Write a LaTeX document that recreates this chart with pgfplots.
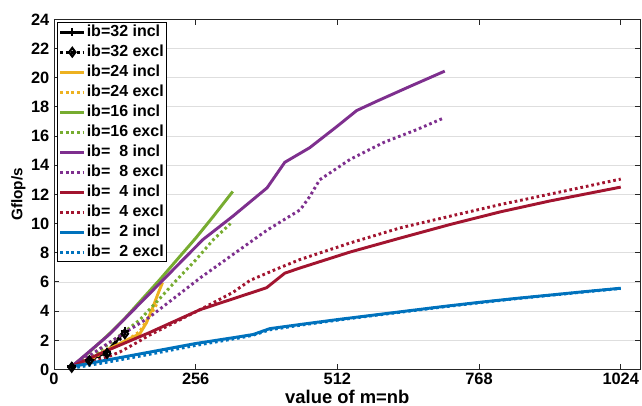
\documentclass[border=0pt]{standalone}
\usepackage{fontspec}
\setmainfont{Liberation Sans}
\usepackage{pgfplots}
\pgfplotsset{compat=1.18}
\definecolor{mblue}{rgb}{0,0.447,0.741}
\definecolor{mred}{rgb}{0.635,0.078,0.184}
\definecolor{mpurple}{rgb}{0.494,0.184,0.556}
\definecolor{mgreen}{rgb}{0.466,0.674,0.188}
\definecolor{morange}{rgb}{0.929,0.694,0.125}
\tikzset{sol/.style={solid, line cap=butt, line width=2.2pt},
 dot/.style={line width=2.2pt, line cap=butt, dash pattern=on 2pt off 2.2pt}}
\begin{document}
\begin{tikzpicture}
\begin{axis}[
 scale only axis, width=440pt, height=262.6pt,
 xmin=0, xmax=1060, ymin=0, ymax=24,
 xtick={0,256,512,768,1024}, xticklabels={0,256,512,768,1024},
 ytick={0,2,4,6,8,10,12,14,16,18,20,22,24},
 yticklabels={0,2,4,6,8,10,12,14,16,18,20,22,24},
 tick align=inside, major tick length=4pt,
 ymajorgrids, grid style={black!13, line width=0.6pt},
 axis line style={black!85, line width=0.7pt},
 every tick/.style={black!85, line width=0.7pt},
 font=\fontsize{12.3}{14}\selectfont\bfseries,
 xticklabel style={yshift=1pt},
 xlabel={value of m=nb}, ylabel={Gflop/s},
 xlabel style={at={(axis description cs:0.5,-0.077)}, anchor=center, font=\fontsize{13.8}{16}\selectfont\bfseries},
 ylabel style={at={(axis description cs:-0.0605,0.5)}, anchor=center, font=\fontsize{11.5}{13}\selectfont\bfseries},
 legend style={at={(axis description cs:0,1)}, anchor=north west, xshift=2.25pt, yshift=-2pt,
   draw=black, line width=0.7pt, fill=white, row sep=2.4pt, inner sep=1pt,
   font=\fontsize{12}{13}\selectfont\bfseries,
   nodes={inner sep=0.8pt, text height=9pt, text depth=2pt}},
 legend cell align=left,
 legend image code/.code={\draw[mark repeat=2,mark phase=2,#1] plot coordinates {(0pt,0pt) (9pt,0pt) (18pt,0pt)};},
]
\addplot[black, sol, mark=+, mark size=3.2pt, mark options={solid, line width=1.6pt}] coordinates {(32,0.2)(64,0.65)(96,1.2)(128,2.65)};
\addlegendentry{ib=32 incl}
\addplot[black, dot, mark=diamond, mark size=3.2pt, mark options={solid, line width=1.6pt}] coordinates {(32,0.15)(64,0.6)(96,1.1)(128,2.45)};
\addlegendentry{ib=32 excl}
\addplot[morange, sol] coordinates {(32,0.2)(64,0.7)(96,1.35)(128,1.95)(155,2.45)(167,3.2)(179,4.3)(188,5.2)(196,5.95)};
\addlegendentry{ib=24 incl}
\addplot[morange, dot] coordinates {(32,0.15)(64,0.65)(96,1.3)(128,1.9)(155,2.6)(170,3.5)(180,4.1)(188,4.65)};
\addlegendentry{ib=24 excl}
\addplot[mgreen, sol] coordinates {(32,0.2)(64,1.2)(96,2.3)(128,3.5)(160,4.85)(191,6.15)(224,7.6)(256,9.0)(288,10.5)(323,12.2)};
\addlegendentry{ib=16 incl}
\addplot[mgreen, dot] coordinates {(32,0.2)(64,0.8)(101,1.8)(128,2.6)(155,3.4)(192,4.9)(222,6.15)(256,7.5)(288,8.9)(319,10.0)};
\addlegendentry{ib=16 excl}
\addplot[mpurple, sol] coordinates {(32,0.2)(100,2.4)(191,5.9)(269,8.9)(323,10.5)(385,12.45)(417,14.2)(462,15.2)(511,16.65)(547,17.75)(584,18.4)(643,19.4)(706,20.45)};
\addlegendentry{ib=\hphantom{3}8 incl}
\addplot[mpurple, dot] coordinates {(32,0.15)(96,1.75)(173,3.6)(265,6.3)(324,7.9)(385,9.55)(445,10.95)(462,11.85)(480,13.0)(535,14.4)(595,15.55)(656,16.45)(705,17.25)};
\addlegendentry{ib=\hphantom{3}8 excl}
\addplot[mred, sol] coordinates {(32,0.2)(96,1.3)(172,2.52)(264,4.1)(384,5.6)(417,6.6)(444,6.95)(535,8.05)(625,9.0)(715,9.93)(806,10.8)(896,11.55)(1024,12.5)};
\addlegendentry{ib=\hphantom{3}4 incl}
\addplot[mred, dot] coordinates {(32,0.15)(64,0.45)(96,0.85)(119,1.2)(150,1.85)(172,2.35)(264,4.1)(324,5.3)(354,6.1)(400,6.85)(444,7.53)(535,8.67)(625,9.7)(715,10.5)(806,11.3)(900,12.05)(1024,13.05)};
\addlegendentry{ib=\hphantom{3}4 excl}
\addplot[mblue, sol] coordinates {(32,0.19)(96,0.65)(160,1.1)(256,1.78)(336,2.25)(360,2.4)(390,2.8)(448,3.1)(512,3.42)(576,3.72)(640,4.02)(704,4.32)(768,4.6)(832,4.86)(896,5.1)(960,5.34)(1024,5.57)};
\addlegendentry{ib=\hphantom{3}2 incl}
\addplot[mblue, dot] coordinates {(32,0.08)(96,0.5)(160,0.95)(256,1.65)(336,2.17)(360,2.35)(390,2.72)(448,3.05)(512,3.38)(576,3.69)(640,3.99)(704,4.29)(768,4.57)(832,4.84)(896,5.08)(960,5.32)(1024,5.55)};
\addlegendentry{ib=\hphantom{3}2 excl}
\end{axis}
\pgfresetboundingbox
\path (-40.5pt,-27.4pt) rectangle (441pt,277.1pt);
\end{tikzpicture}
\end{document}
